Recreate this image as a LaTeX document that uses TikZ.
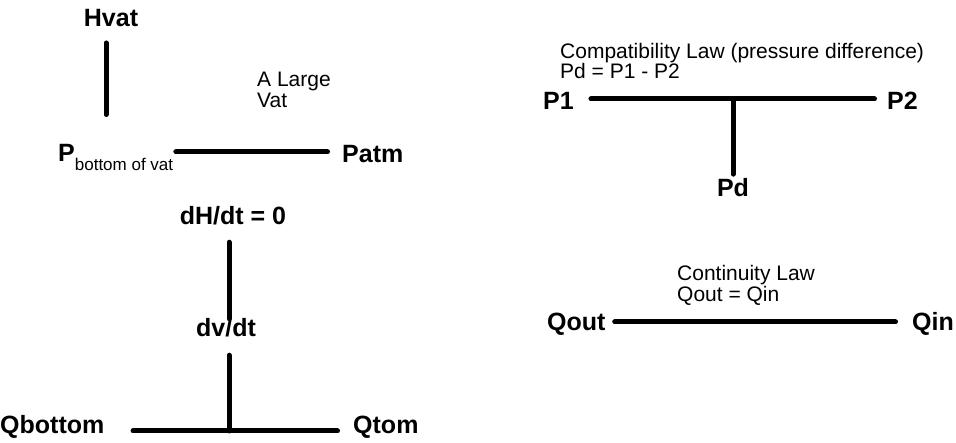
\documentclass[tikz,border=0pt]{standalone}
\usepackage{fontspec}
\setmainfont{Liberation Sans}
\usepackage{tikz}
\usetikzlibrary{positioning}

\newcommand{\tagfont}{\fontsize{25}{25}\selectfont\bfseries}
\newcommand{\notefont}{\fontsize{21}{21}\selectfont}
\newcommand{\subfont}{\fontsize{17}{17}\selectfont\mdseries}

\begin{document}
\begin{tikzpicture}[x=1pt, y=-1pt]
  \tikzset{
    lbl/.style={inner sep=0pt, font=\tagfont},
    note/.style={inner sep=0pt, font=\notefont, align=left, anchor=north west},
    bar/.style={line width=5pt, line cap=round}
  }
  \useasboundingbox (0,0) rectangle (956,443);

  % vat: height and bottom pressure
  \node[lbl, anchor=base] (hvat) at (111,27) {Hvat};
  \node[note] (vatnote) at (257,72) {A Large\\Vat};
  \node[lbl, anchor=base west] (pbot) at (58,162) {P\raisebox{-9pt}{\subfont bottom of vat}};
  \node[lbl, anchor=base west] (patm) at (342,163) {Patm};
  \coordinate (vatjoin) at (106,114.5);
  \coordinate (vatline) at (250,152);

  \draw[bar, shorten <=15.5pt] (hvat.south -| vatjoin) -- (vatjoin);
  \draw[bar, shorten <=2.5pt, shorten >=14.5pt] (pbot.east |- vatline) -- (patm.west |- vatline);

  % vat: flows
  \node[lbl, anchor=base] (dhdt) at (233,225) {dH/dt = 0};
  \node[lbl, anchor=base] (dvdt) at (226,337) {dv/dt};
  \node[lbl, anchor=base west] (qbot) at (0,434) {Qbottom};
  \node[lbl, anchor=base west] (qtom) at (353,434) {Qtom};
  \coordinate (qjoin) at (229,431);

  \draw[bar, shorten <=16.5pt] (dhdt.south -| qjoin) -- (dvdt.north -| qjoin);
  \draw[bar, shorten <=17.5pt] (dvdt.south -| qjoin) -- (qjoin);
  \draw[bar, shorten <=28.5pt, shorten >=15.5pt] (qbot.east |- qjoin) -- (qtom.west |- qjoin);

  % compatibility law
  \node[note, font=\fontsize{21}{17}\selectfont] (compat) at (560,43) {Compatibility Law (pressure difference)\\Pd = P1 - P2};
  \node[lbl, anchor=base west] (p1) at (543,110) {P1};
  \node[lbl, anchor=base west] (p2) at (887,110) {P2};
  \node[lbl, anchor=base] (pd) at (733,197) {Pd};
  \coordinate (pjoin) at (733,99);

  \draw[bar, shorten <=17pt, shorten >=12.5pt] (p1.east |- pjoin) -- (p2.west |- pjoin);
  \draw[bar, shorten >=4.5pt] (pjoin) -- (pd.north);

  % continuity law
  \node[note] (cont) at (677,265) {Continuity Law\\Qout = Qin};
  \node[lbl, anchor=base west] (qout) at (547,331) {Qout};
  \node[lbl, anchor=base west] (qin) at (912,331) {Qin};
  \coordinate (contline) at (755,322);

  \draw[bar, shorten <=9pt, shorten >=16.5pt] (qout.east |- contline) -- (qin.west |- contline);
\end{tikzpicture}
\end{document}
